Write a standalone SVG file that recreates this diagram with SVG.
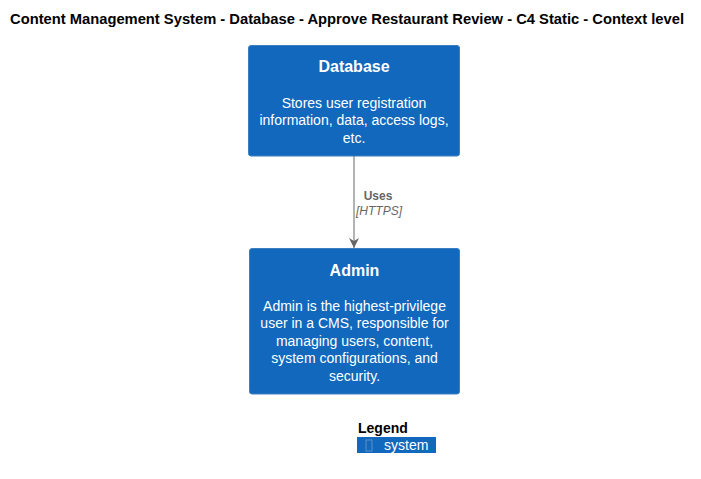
<svg xmlns="http://www.w3.org/2000/svg" width="701" height="479" viewBox="0 0 701 479">
<style>
.box{fill:#1168BD;stroke:#3C7FC0;stroke-width:1}
.t{font-family:"Liberation Sans",Arial,sans-serif;fill:#FFFFFF;text-anchor:middle}
.nm{font-size:16px;font-weight:bold}
.ds{font-size:14px}
.lbl{font-family:"Liberation Sans",Arial,sans-serif;fill:#666666;font-size:12px;text-anchor:middle}
</style>
<defs>
<marker id="arr" viewBox="0 0 10 10" refX="10" refY="5" markerWidth="10" markerHeight="10" markerUnits="userSpaceOnUse" orient="auto">
<path d="M0,0 L10,5 L0,10 L3,5 Z" fill="#666666"/>
</marker>
</defs>
<rect width="701" height="479" fill="#FFFFFF"/>
<text x="10" y="24" font-family="Liberation Sans,Arial,sans-serif" font-size="14" font-weight="bold" fill="#000000" textLength="674" lengthAdjust="spacingAndGlyphs">Content Management System - Database - Approve Restaurant Review - C4 Static - Context level</text>
<g id="database">
<rect class="box" x="248.5" y="45.5" width="211" height="110.5" rx="2.5"/>
<text class="t nm" x="354" y="72">Database</text>
<text class="t ds" x="354" y="108">Stores user registration</text>
<text class="t ds" x="354" y="125">information, data, access logs,</text>
<text class="t ds" x="354" y="143">etc.</text>
</g>
<g id="admin">
<rect class="box" x="249.5" y="248.5" width="210" height="145.5" rx="2.5"/>
<text class="t nm" x="354.5" y="276">Admin</text>
<text class="t ds" x="354.5" y="311">Admin is the highest-privilege</text>
<text class="t ds" x="354.5" y="328">user in a CMS, responsible for</text>
<text class="t ds" x="354.5" y="346">managing users, content,</text>
<text class="t ds" x="354.5" y="363">system configurations, and</text>
<text class="t ds" x="354.5" y="381">security.</text>
</g>
<g id="connectors">
<line x1="354" y1="156" x2="354" y2="248" stroke="#666666" stroke-width="1" marker-end="url(#arr)"/>
<text class="lbl" x="378" y="200" font-weight="bold">Uses</text>
<text class="lbl" x="379" y="215" font-style="italic">[HTTPS]</text>
</g>
<g id="legend">
<text x="358" y="433" font-family="Liberation Sans,Arial,sans-serif" font-size="14" font-weight="bold" fill="#000000">Legend</text>
<rect x="357" y="437" width="79" height="16" fill="#1168BD"/>
<rect x="366" y="440" width="6" height="11" fill="none" stroke="#5A90C8" stroke-width="1"/>
<text x="384" y="450" font-family="Liberation Sans,Arial,sans-serif" font-size="14" fill="#FFFFFF">system</text>
</g>
</svg>
